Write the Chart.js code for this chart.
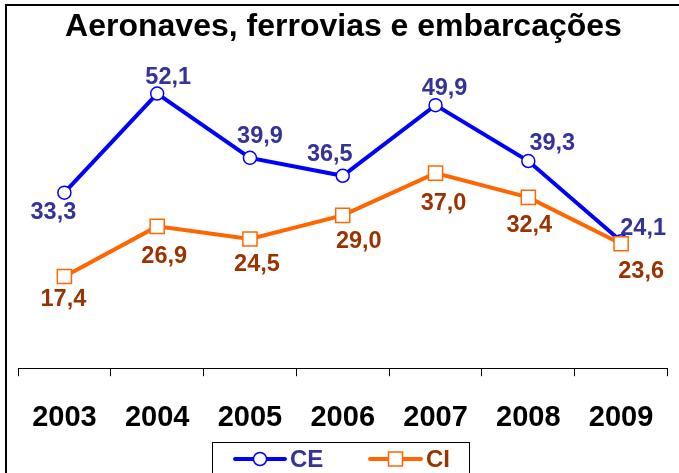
<!DOCTYPE html>
<html>
<head>
<meta charset="utf-8">
<script src="https://cdn.jsdelivr.net/npm/chart.js@4"></script>
<style>
  html, body { margin: 0; padding: 0; background: #fff; }
  #wrap { width: 679px; height: 473px; position: relative; }
</style>
</head>
<body>
<div id="wrap"><canvas id="grafico" width="679" height="473"></canvas></div>
<script>
// dados
const anos = ["2003", "2004", "2005", "2006", "2007", "2008", "2009"];
const ce = [33.3, 52.1, 39.9, 36.5, 49.9, 39.3, 24.1];
const ci = [17.4, 26.9, 24.5, 29.0, 37.0, 32.4, 23.6];

// deslocamento dos rotulos (x, y) em relacao ao ponto
const rotulosCE = [[-11, 20], [11, -16], [10, -21], [-13, -21], [9, -17], [24, -18], [22, -13]];
const rotulosCI = [[-1, 23], [7, 30], [7, 25], [16, 26], [8, 30], [1, 28], [20, 28]];

const fonte = "'Liberation Sans', Arial, sans-serif";

const rotulos = {
  id: "rotulos",
  afterDatasetsDraw(chart) {
    const ctx = chart.ctx;
    ctx.save();
    ctx.font = "bold 23.5px " + fonte;
    ctx.textAlign = "center";
    ctx.textBaseline = "middle";
    chart.data.datasets.forEach((ds, i) => {
      const meta = chart.getDatasetMeta(i);
      ctx.fillStyle = ds.corRotulo;
      meta.data.forEach((p, j) => {
        const d = ds.desloc[j];
        ctx.fillText(ds.data[j].toFixed(1).replace(".", ","), p.x + d[0], p.y + d[1]);
      });
    });
    ctx.restore();
  },
};

const moldura = {
  id: "moldura",
  afterDraw(chart) {
    const ctx = chart.ctx;
    ctx.save();
    ctx.strokeStyle = "#000";
    ctx.lineWidth = 2;
    ctx.beginPath();
    ctx.moveTo(6, 473);
    ctx.lineTo(6, 5);
    ctx.lineTo(679, 5);
    ctx.stroke();

    // legenda
    ctx.lineWidth = 1;
    ctx.strokeRect(212.5, 442.5, 257, 40);
    const y = 459;
    const itens = [
      { x0: 235, x1: 285, cor: "#0000ff", txt: "CE", corTxt: "#333399", tipo: "c" },
      { x0: 370, x1: 421, cor: "#ff6600", txt: "CI", corTxt: "#993300", tipo: "q" },
    ];
    itens.forEach((it) => {
      ctx.strokeStyle = it.cor;
      ctx.lineWidth = 4;
      ctx.lineCap = "round";
      ctx.beginPath();
      ctx.moveTo(it.x0, y);
      ctx.lineTo(it.x1, y);
      ctx.stroke();
      const cx = (it.x0 + it.x1) / 2;
      ctx.fillStyle = "#fff";
      ctx.lineWidth = 1.5;
      ctx.beginPath();
      if (it.tipo === "c") ctx.arc(cx, y, 6.5, 0, Math.PI * 2);
      else ctx.rect(cx - 7, y - 7, 14, 14);
      ctx.fill();
      ctx.stroke();
      ctx.fillStyle = it.corTxt;
      ctx.font = "bold 24px " + fonte;
      ctx.textAlign = "left";
      ctx.textBaseline = "middle";
      ctx.fillText(it.txt, it.x1 + 5, y + 1);
    });
    ctx.restore();
  },
};

new Chart(document.getElementById("grafico"), {
  type: "line",
  data: {
    labels: anos,
    datasets: [
      {
        label: "CE",
        data: ce,
        borderColor: "#0000ff",
        backgroundColor: "#ffffff",
        borderWidth: 4,
        pointStyle: "circle",
        pointRadius: 6.5,
        pointBorderWidth: 1.5,
        pointBackgroundColor: "#ffffff",
        pointBorderColor: "#0000ff",
        tension: 0,
        order: 1,
        corRotulo: "#333399",
        desloc: rotulosCE,
      },
      {
        label: "CI",
        data: ci,
        borderColor: "#ff6600",
        backgroundColor: "#ffffff",
        borderWidth: 4,
        pointStyle: "rect",
        pointRadius: 10,
        pointBorderWidth: 1.5,
        pointBackgroundColor: "#ffffff",
        pointBorderColor: "#ff6600",
        tension: 0,
        order: 0,
        corRotulo: "#993300",
        desloc: rotulosCI,
      },
    ],
  },
  options: {
    responsive: false,
    animation: false,
    layout: {
      padding: { left: 18, right: 10, top: 0, bottom: 14 },
    },
    plugins: {
      legend: { display: false },
      tooltip: { enabled: false },
      title: {
        display: true,
        text: "Aeronaves, ferrovias e embarcações",
        color: "#000",
        font: { family: fonte, size: 32, weight: "bold" },
        padding: { top: 8, bottom: 5.5 },
      },
    },
    scales: {
      x: {
        offset: true,
        grid: {
          offset: true,
          drawOnChartArea: false,
          drawTicks: true,
          tickLength: 8,
          color: "#000",
        },
        border: { display: true, color: "#000", width: 1 },
        ticks: {
          color: "#000",
          padding: 24,
          maxRotation: 0,
          font: { family: fonte, size: 29, weight: "bold" },
        },
      },
      y: {
        display: false,
        min: 0,
        max: 60,
      },
    },
  },
  plugins: [rotulos, moldura],
});
</script>
</body>
</html>
